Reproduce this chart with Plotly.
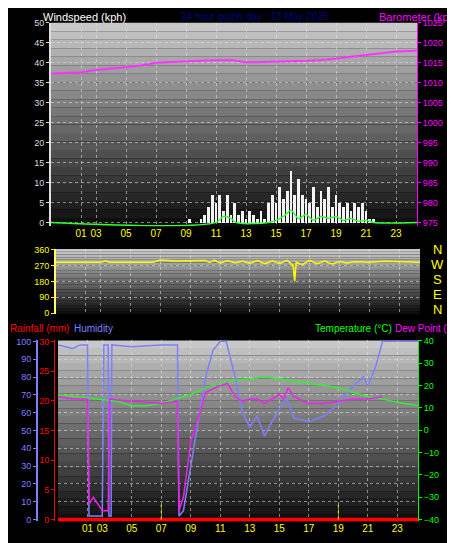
import plotly.graph_objects as go

# barometer (kpa axis, really hPa values)
baro_h = [0, 1, 2, 3, 4, 5, 6, 7, 8, 9, 10, 11, 12, 13, 14, 15, 16, 17, 18, 19, 20, 21, 22, 23, 24.4]
baro_v = [1012.3, 1012.5, 1012.6, 1013.2, 1013.5, 1013.9, 1014.3, 1015.0, 1015.2, 1015.4, 1015.5, 1015.6, 1015.7,
          1015.1, 1015.2, 1015.2, 1015.3, 1015.5, 1015.7, 1016.0, 1016.5, 1017.0, 1017.4, 1017.8, 1018.0]

# wind gusts every 15 minutes from 09:00
gust_h = [9 + i * 0.25 for i in range(53)]
gust_v = [0, 1, 0, 0, 1, 2, 4, 7, 5, 7, 3, 7, 2, 5, 2, 3, 1, 3, 2, 1, 3, 1, 5, 7, 5, 9, 6, 8, 13, 7, 11, 7,
          6, 5, 9, 4, 8, 6, 9, 4, 7, 5, 4, 5, 3, 5, 4, 5, 3, 1, 1, 0, 0]
avg_h = [0, 11, 11.5, 12, 12.3, 14.5, 15, 15.5, 16, 16.5, 17, 17.5, 18, 18.5, 19, 19.5, 20, 20.5, 21, 21.5, 24.4]
avg_v = [0, 0, 1.5, 1, 0, 0, 0.5, 1.5, 3, 1, 2, 0.5, 1.5, 1, 1.5, 0.5, 1, 0.3, 0.5, 0, 0]

# wind direction (deg)
dir_h = [0, 3, 3.3, 3.6, 6.5, 7, 8, 9, 10, 10.3, 10.6, 11, 11.5, 12, 12.5, 13, 13.5, 14, 14.5, 15, 15.5,
         15.9, 16, 16.1, 16.5, 17, 17.5, 18, 18.5, 19, 19.5, 20, 21, 22, 23, 24.4]
dir_v = [289, 289, 297, 290, 290, 303, 296, 296, 300, 288, 302, 285, 298, 287, 295, 284, 299, 282, 296, 283,
         300, 270, 180, 290, 276, 300, 282, 297, 280, 294, 285, 292, 290, 295, 292, 290]

# humidity (%)
hum_h = [0, 1, 1.5, 2.0, 2.1, 3.0, 3.1, 3.4, 3.45, 3.6, 3.65, 5, 7, 8.1, 8.2, 8.5, 9, 9.5, 10, 10.5, 11,
         11.4, 12, 12.5, 13, 13.5, 14, 14.5, 15, 15.5, 16, 17, 18, 19, 20, 20.7, 21, 21.5, 22, 24.4]
hum_v = [98, 96, 98, 98, 2, 2, 98, 98, 2, 2, 98, 97, 98, 98, 2, 5, 30, 55, 80, 95, 100, 100, 80, 60, 52,
         58, 47, 55, 62, 68, 57, 55, 58, 65, 75, 80, 75, 85, 100, 100]

# dew point (C)
dew_h = [0, 1, 2, 2.1, 2.4, 3.0, 3.4, 3.5, 5, 7, 8.1, 8.2, 8.5, 9, 9.5, 10, 11, 11.5, 12, 12.5, 13, 13.5,
         14, 14.5, 15, 15.3, 15.6, 16, 17, 18, 19, 20, 21, 22]
dew_v = [15, 14, 14, -33, -30, -36, -36, 14, 13, 12, 13, -36, -30, -5, 5, 17, 20, 21, 15, 13, 14, 14,
         12, 14, 16, 14, 19, 15, 12, 12, 13, 14, 14, 15]

# temperature (C)
temp_h = [0, 2, 4, 5, 6, 7, 8, 9, 10, 11, 12, 13, 14, 15, 16, 17, 18, 19, 20, 21, 22, 23, 24.4]
temp_v = [16, 14.5, 13, 11, 11, 12, 14, 16, 19, 21, 22.5, 23, 24, 23, 22, 21, 20, 19, 17, 15, 14, 12.5, 11]

rain_h = [0, 24.4]
rain_v = [0, 0]

tick_vals = [2, 3, 5, 7, 9, 11, 13, 15, 17, 19, 21, 23]
tick_text = ['01', '03', '05', '07', '09', '11', '13', '15', '17', '19', '21', '23']

FONT = "Liberation Sans"
fig = go.Figure()

# panel 1
fig.add_trace(go.Bar(x=gust_h, y=gust_v, marker_color='#f4f4f4', marker_line_width=0, width=0.18,
                     xaxis='x', yaxis='y'))
fig.add_trace(go.Scatter(x=avg_h, y=avg_v, mode='lines', line=dict(color='#33ff33', width=1.5),
                         line_shape='spline', xaxis='x', yaxis='y'))
fig.add_trace(go.Scatter(x=baro_h, y=baro_v, mode='lines', line=dict(color='#ff33ff', width=2),
                         xaxis='x', yaxis='y2'))
# panel 2
fig.add_trace(go.Scatter(x=dir_h, y=dir_v, mode='lines', line=dict(color='#ffff00', width=1.5),
                         xaxis='x2', yaxis='y3'))
# panel 3
fig.add_trace(go.Scatter(x=temp_h, y=temp_v, mode='lines', line=dict(color='#33ee33', width=1.5),
                         xaxis='x3', yaxis='y6'))
fig.add_trace(go.Scatter(x=dew_h, y=dew_v, mode='lines', line=dict(color='#ee22ee', width=1.5),
                         xaxis='x3', yaxis='y6'))
fig.add_trace(go.Scatter(x=hum_h, y=hum_v, mode='lines', line=dict(color='#7f7fff', width=1.5),
                         xaxis='x3', yaxis='y4'))
fig.add_trace(go.Scatter(x=rain_h, y=rain_v, mode='lines', line=dict(color='#ff0000', width=4),
                         xaxis='x3', yaxis='y5'))
for h in [7, 19]:
    fig.add_trace(go.Scatter(x=[h, h], y=[0, 3], mode='lines', line=dict(color='#ffff00', width=1, dash='dot'),
                             xaxis='x3', yaxis='y5'))

# gradient backgrounds
def gradient(x0, x1, y0, y1, n=24):
    for i in range(n):
        c = int(200 - 185 * i / (n - 1))
        fig.add_shape(type='rect', xref='paper', yref='paper', layer='below', line_width=0,
                      x0=x0, x1=x1, y1=y1 - (y1 - y0) * i / n, y0=y1 - (y1 - y0) * (i + 1) / n,
                      fillcolor=f'rgb({c},{c},{c})')

D1x, D1y = [43 / 455, 409 / 455], [1 - 217 / 543, 1 - 10 / 543]
D2x, D2y = [48 / 455, 412 / 455], [1 - 306 / 543, 1 - 240 / 543]
D3x, D3y = [50 / 455, 410 / 455], [1 - 517 / 543, 1 - 333 / 543]
gradient(D1x[0], D1x[1], D1y[0], D1y[1])
gradient(D2x[0], D2x[1], D2y[0], D2y[1])
gradient(D3x[0], D3x[1], D3y[0], D3y[1])

grid = dict(showgrid=True, gridcolor='rgba(230,230,230,0.55)', griddash='dot', gridwidth=1, zeroline=False)
xcommon = dict(range=[0, 24.4], tickvals=tick_vals, ticktext=tick_text,
               tickfont=dict(color='#ffff00', size=10, family=FONT), ticks='', **grid)

fig.update_layout(
    width=455, height=543, margin=dict(l=0, r=0, t=0, b=0),
    paper_bgcolor='black', plot_bgcolor='rgba(0,0,0,0)', showlegend=False, bargap=0,
    font=dict(family=FONT),
    xaxis=dict(domain=D1x, anchor='y', **xcommon),
    yaxis=dict(domain=D1y, range=[-1, 50], dtick=5, tickfont=dict(color='#dddddd', size=9),
               showline=True, linecolor='#dddddd', linewidth=2, ticks='outside', ticklen=3,
               tickcolor='#dddddd', **grid),
    yaxis2=dict(overlaying='y', side='right', anchor='x', range=[974, 1025], dtick=5, zeroline=False,
                tickfont=dict(color='#ff00ff', size=9), showline=True, linecolor='#ff00ff',
                ticks='outside', ticklen=3, tickcolor='#ff00ff', showgrid=False),
    xaxis2=dict(domain=D2x, anchor='y3', showticklabels=False, range=[0, 24.4], tickvals=tick_vals,
                **grid),
    yaxis3=dict(domain=D2y, anchor='x2', range=[-5, 365], tickvals=[0, 90, 180, 270, 360],
                tickfont=dict(color='#ffff00', size=9), showline=True, linecolor='#ffff66', linewidth=2,
                ticks='outside', ticklen=3, tickcolor='#ffff00', **grid),
    xaxis3=dict(domain=D3x, anchor='y4', **xcommon),
    yaxis4=dict(domain=D3y, anchor='free', position=29 / 455, range=[-1, 100.5], dtick=10,
                tickfont=dict(color='#7f7fff', size=9), showline=True, linecolor='#7f7fff', linewidth=2,
                ticks='outside', ticklen=3, tickcolor='#7f7fff', **grid),
    yaxis5=dict(overlaying='y4', anchor='free', position=46 / 455, range=[-0.3, 30.15], dtick=5,
                zeroline=False, tickfont=dict(color='#ff0000', size=9), showline=True, linecolor='#ff0000',
                ticks='outside', ticklen=3, tickcolor='#ff0000', showgrid=False),
    yaxis6=dict(overlaying='y4', side='right', anchor='x3', range=[-40.8, 40.2], dtick=10, zeroline=False,
                tickfont=dict(color='#00ff00', size=9), showline=True, linecolor='#00ff00',
                ticks='outside', ticklen=3, tickcolor='#00ff00', showgrid=False),
)

def label(text, x, y, color, size=11, anchor='left'):
    fig.add_annotation(text=text, x=x / 455, y=1 - y / 543, xref='paper', yref='paper', showarrow=False,
                       xanchor=anchor, yanchor='middle', font=dict(color=color, size=size, family=FONT))

label('Windspeed (kph)', 33, 4, 'white')
label('24 hour graph day : 13 May 2025', 247, 4, '#000080', size=10, anchor='center')
label('Barometer (kpa)', 452, 4, '#ff00ff', anchor='right')
for i, s in enumerate(['N', 'W', 'S', 'E', 'N']):
    label(s, 429, 240 + i * 15.5, '#ffff00', size=13, anchor='center')
label('Rainfall (mm)', 0, 321, '#ff0000', size=10)
label('Humidity', 64, 321, '#7f7fff', size=10)
label('Temperature (°C)', 305, 321, '#00ff00', size=10)
label('Dew Point (°C)', 455, 321, '#ff00ff', size=10, anchor='right')

fig.write_html("out.html")
